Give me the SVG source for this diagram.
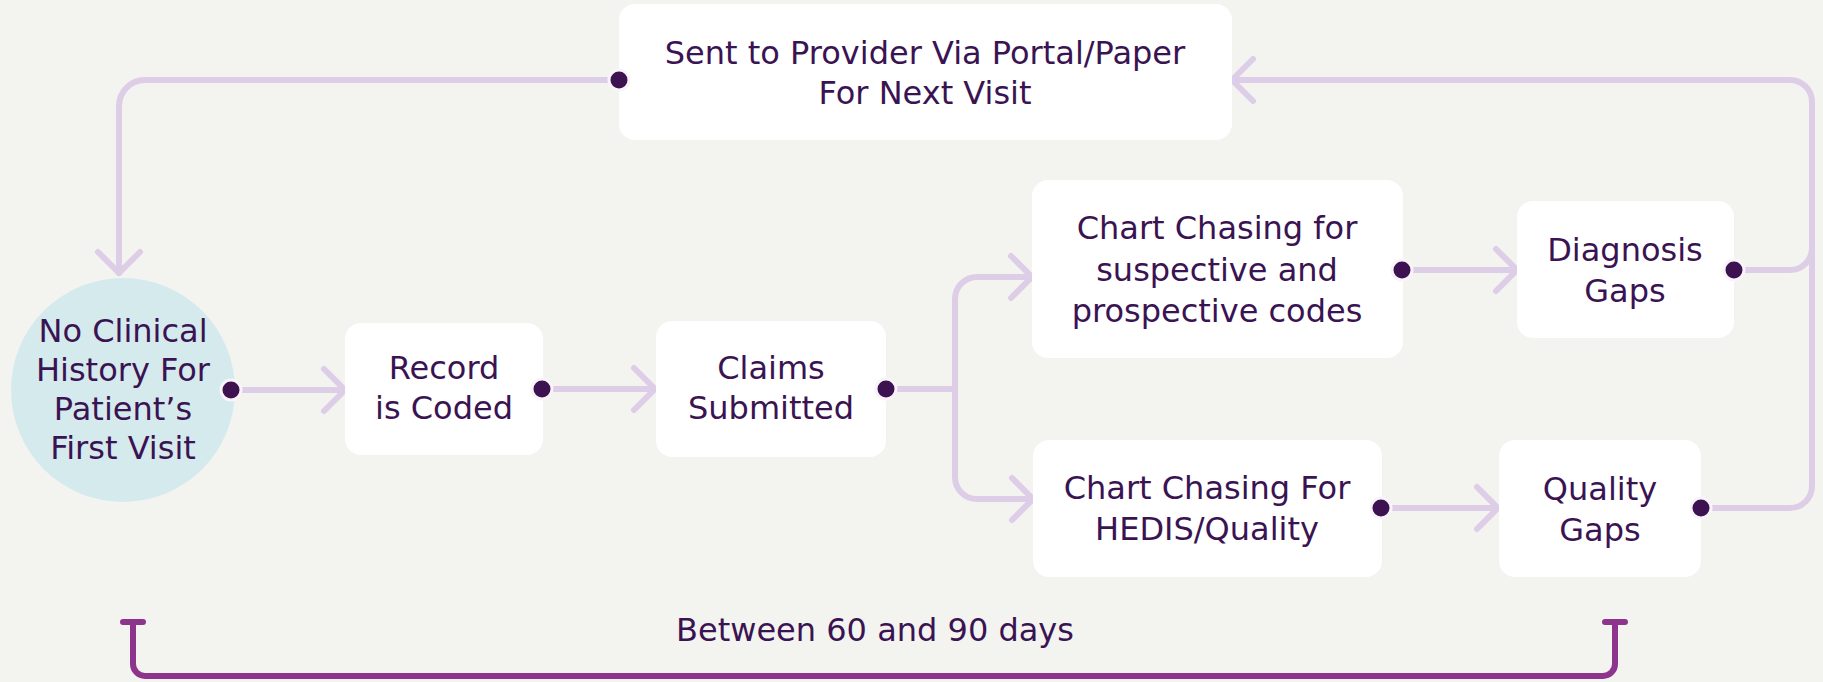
<svg xmlns="http://www.w3.org/2000/svg" width="1823" height="682" viewBox="0 0 1823 682">
  <style>
    .box { fill: #ffffff; }
    .lbl { font-family: "DejaVu Sans", "Liberation Sans", sans-serif; font-size: 32px; fill: #3a1452; text-anchor: middle; }
    .wire { fill: none; stroke: #ddcde7; stroke-width: 6; stroke-linecap: round; stroke-linejoin: round; }
    .dot { fill: #3c1250; stroke: #f8f4f8; stroke-width: 3; }
    .span { fill: none; stroke: #8d358c; stroke-width: 6; stroke-linecap: round; stroke-linejoin: round; }
  </style>

  <rect x="0" y="0" width="1823" height="682" fill="#f3f3f0"/>

  <!-- connectors -->
  <g id="connectors">
    <!-- loop back: sent to provider -> first visit -->
    <path class="wire" d="M619 80 H145 A26 26 0 0 0 119 106 V273"/>
    <path class="wire" d="M98 252 L119 273 L140 252"/>
    <!-- first visit -> record coded -->
    <path class="wire" d="M231 390 H345"/>
    <path class="wire" d="M324 369 L345 390 L324 411"/>
    <!-- record coded -> claims -->
    <path class="wire" d="M542 389 H655"/>
    <path class="wire" d="M634 368 L655 389 L634 410"/>
    <!-- claims -> both chart chasing branches -->
    <path class="wire" d="M886 389 H955"/>
    <path class="wire" d="M1032 277 H977 A22 22 0 0 0 955 299 V477 A22 22 0 0 0 977 499 H1033"/>
    <path class="wire" d="M1011 256 L1032 277 L1011 298"/>
    <path class="wire" d="M1012 478 L1033 499 L1012 520"/>
    <!-- chart chasing -> gaps -->
    <path class="wire" d="M1402 270 H1517"/>
    <path class="wire" d="M1496 249 L1517 270 L1496 291"/>
    <path class="wire" d="M1381 508 H1498"/>
    <path class="wire" d="M1477 487 L1498 508 L1477 529"/>
    <!-- gaps -> sent to provider -->
    <path class="wire" d="M1734 270 H1790 A22 22 0 0 0 1812 248 V102 A22 22 0 0 0 1790 80 H1232"/>
    <path class="wire" d="M1701 508 H1790 A22 22 0 0 0 1812 486 V248"/>
    <path class="wire" d="M1253 59 L1232 80 L1253 101"/>
  </g>

  <g id="sent-to-provider">
    <rect class="box" x="619" y="4" width="613" height="136" rx="16"/>
    <text class="lbl" x="925" y="64">Sent to Provider Via Portal/Paper</text>
    <text class="lbl" x="925" y="104">For Next Visit</text>
  </g>

  <g id="first-visit">
    <circle cx="123" cy="390" r="112" fill="#d5eaed"/>
    <text class="lbl" x="123" y="342">No Clinical</text>
    <text class="lbl" x="123" y="381">History For</text>
    <text class="lbl" x="123" y="420">Patient’s</text>
    <text class="lbl" x="123" y="459">First Visit</text>
  </g>

  <g id="record-coded">
    <rect class="box" x="345" y="323" width="198" height="132" rx="16"/>
    <text class="lbl" x="444" y="379">Record</text>
    <text class="lbl" x="444" y="419">is Coded</text>
  </g>

  <g id="claims-submitted">
    <rect class="box" x="656" y="321" width="230" height="136" rx="16"/>
    <text class="lbl" x="771" y="379">Claims</text>
    <text class="lbl" x="771" y="419">Submitted</text>
  </g>

  <g id="chart-chasing-codes">
    <rect class="box" x="1032" y="180" width="371" height="178" rx="16"/>
    <text class="lbl" x="1217" y="239">Chart Chasing for</text>
    <text class="lbl" x="1217" y="281">suspective and</text>
    <text class="lbl" x="1217" y="322">prospective codes</text>
  </g>

  <g id="diagnosis-gaps">
    <rect class="box" x="1517" y="201" width="217" height="137" rx="16"/>
    <text class="lbl" x="1625" y="261">Diagnosis</text>
    <text class="lbl" x="1625" y="302">Gaps</text>
  </g>

  <g id="chart-chasing-hedis">
    <rect class="box" x="1033" y="440" width="349" height="137" rx="16"/>
    <text class="lbl" x="1207" y="499">Chart Chasing For</text>
    <text class="lbl" x="1207" y="540">HEDIS/Quality</text>
  </g>

  <g id="quality-gaps">
    <rect class="box" x="1499" y="440" width="202" height="137" rx="16"/>
    <text class="lbl" x="1600" y="500">Quality</text>
    <text class="lbl" x="1600" y="541">Gaps</text>
  </g>

  <!-- port dots drawn above the boxes -->
  <g id="ports">
    <circle class="dot" cx="619" cy="80" r="10"/>
    <circle class="dot" cx="231" cy="390" r="10"/>
    <circle class="dot" cx="542" cy="389" r="10"/>
    <circle class="dot" cx="886" cy="389" r="10"/>
    <circle class="dot" cx="1402" cy="270" r="10"/>
    <circle class="dot" cx="1734" cy="270" r="10"/>
    <circle class="dot" cx="1381" cy="508" r="10"/>
    <circle class="dot" cx="1701" cy="508" r="10"/>
  </g>

  <g id="timeline">
    <path class="span" d="M133 622 V664 A12 12 0 0 0 145 676 H1603 A12 12 0 0 0 1615 664 V622"/>
    <path class="span" d="M123 622 H143 M1605 622 H1625"/>
    <text class="lbl" x="875" y="641">Between 60 and 90 days</text>
  </g>
</svg>
